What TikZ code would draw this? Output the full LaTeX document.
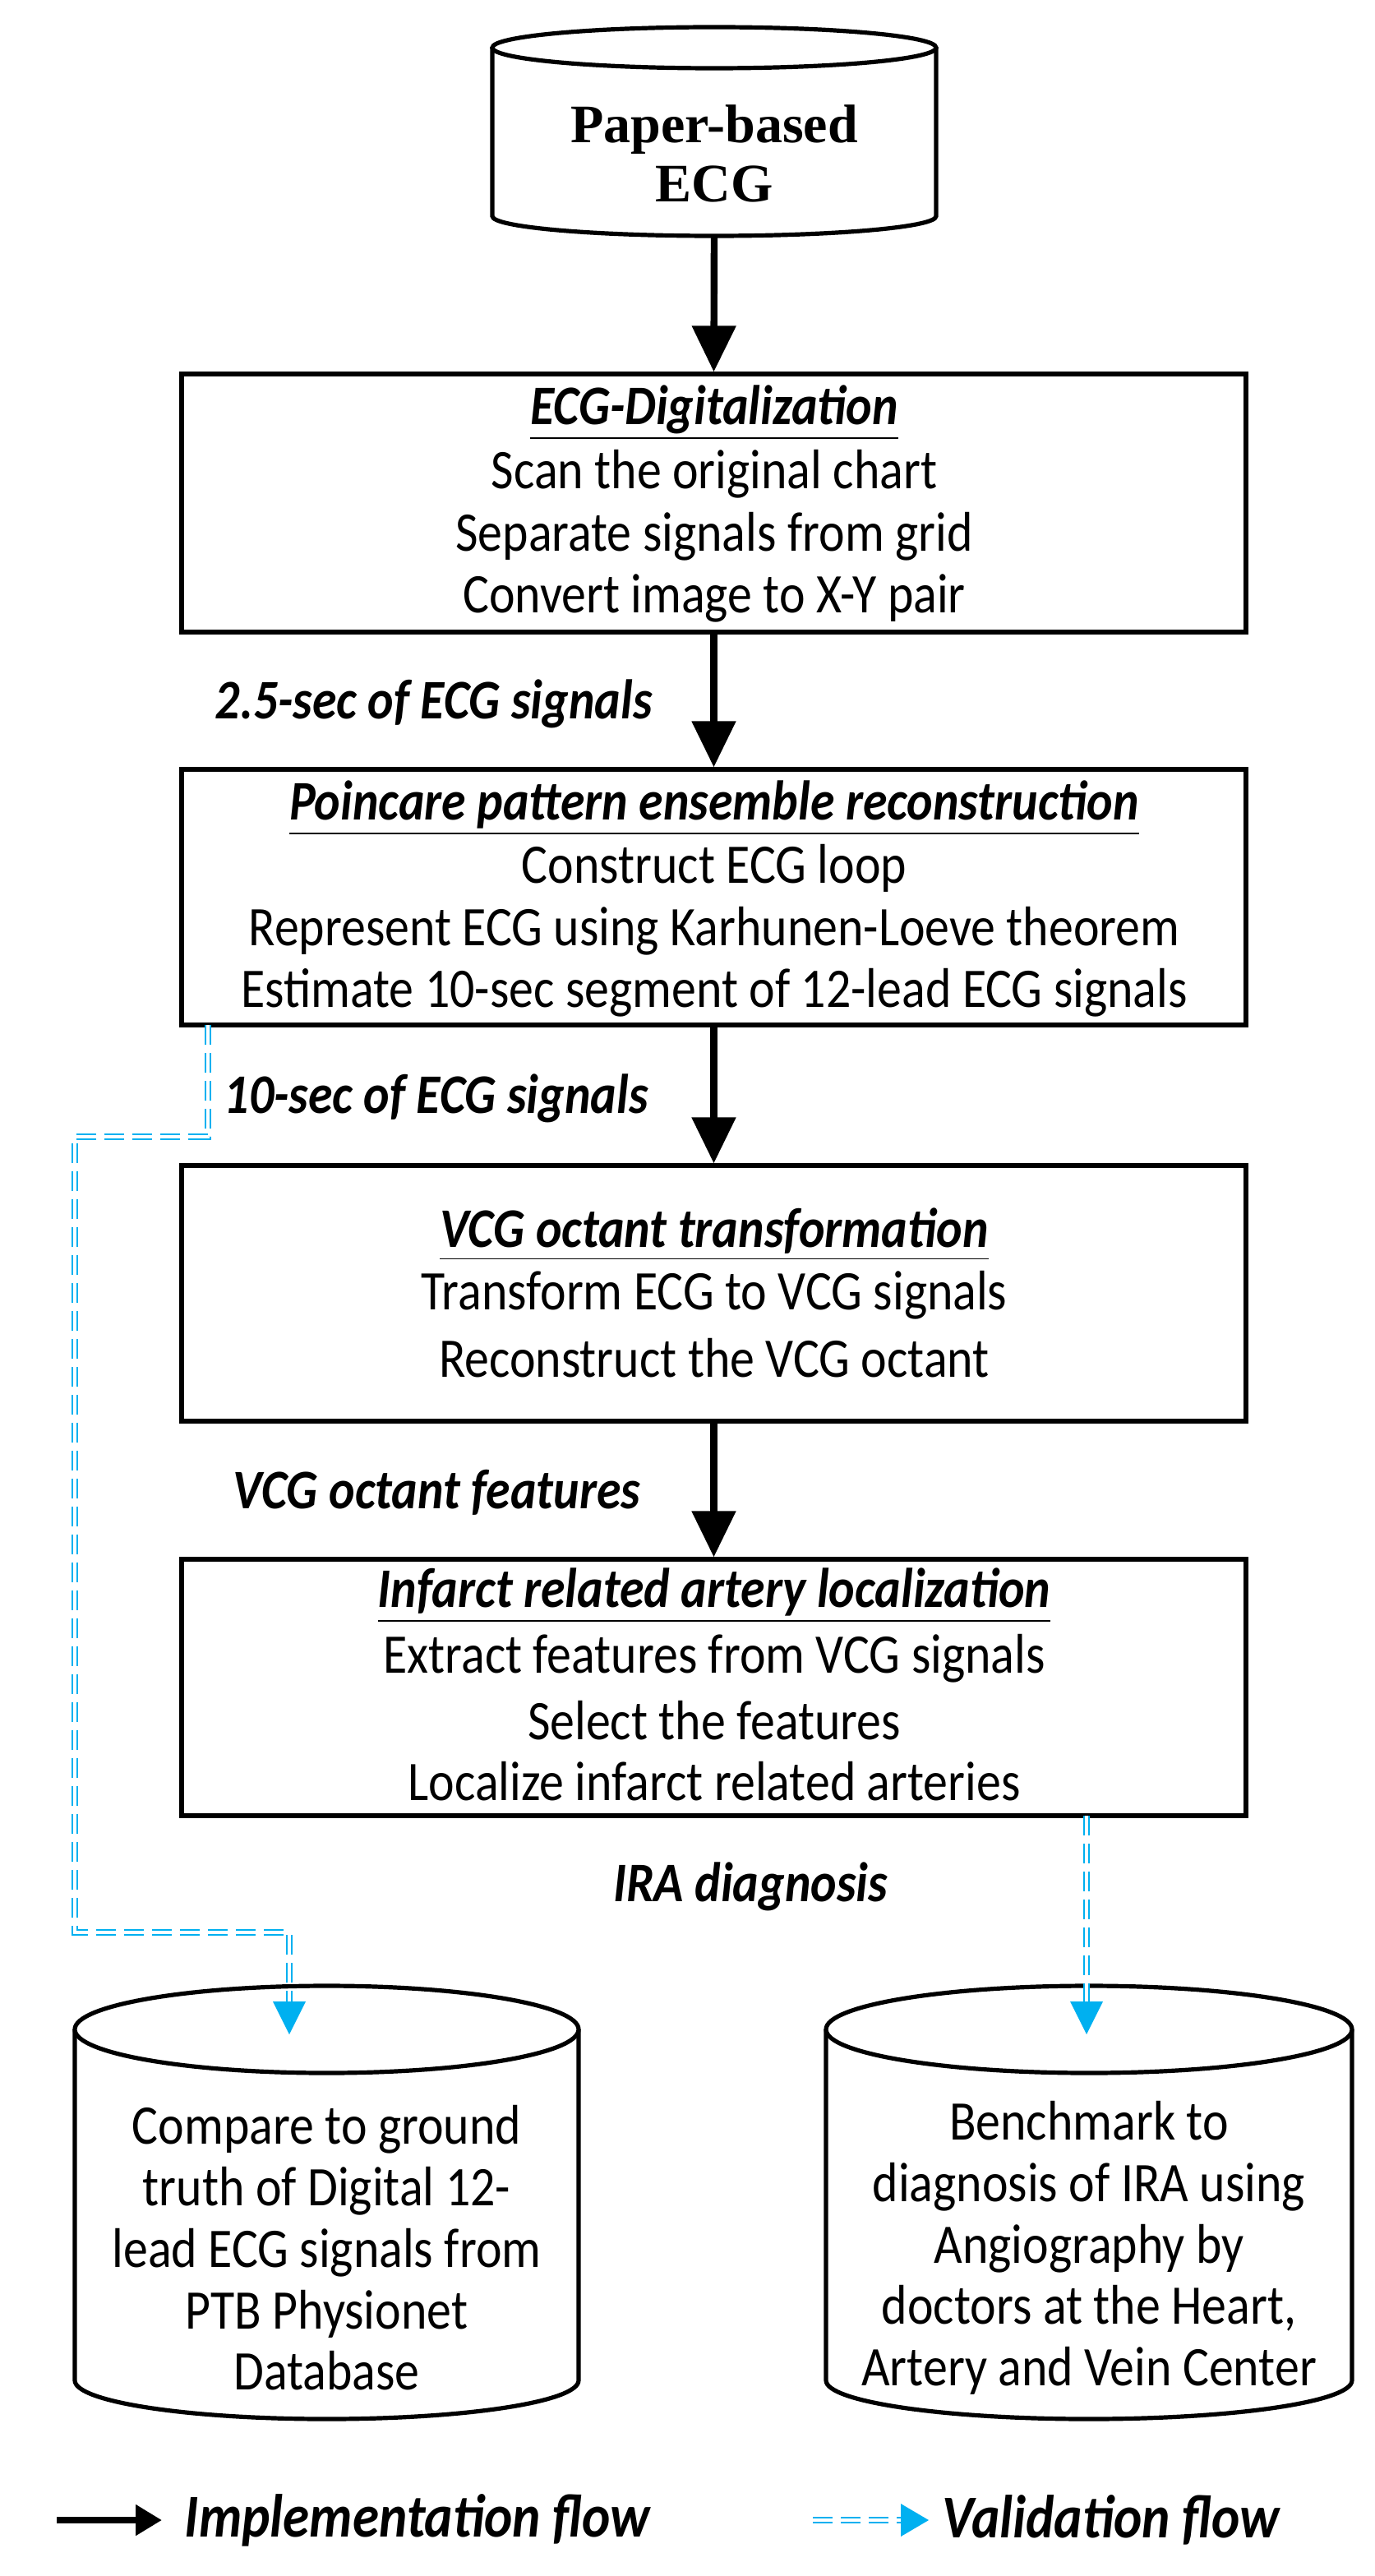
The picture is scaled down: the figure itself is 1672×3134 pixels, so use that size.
\documentclass[tikz,border=0pt]{standalone}
\usepackage{fontspec}
\setmainfont{Carlito}[FakeStretch=0.88]
\newfontfamily\serifb{Liberation Serif}
\usetikzlibrary{arrows.meta}
\definecolor{vblue}{RGB}{0,176,240}
\begin{document}
\begin{tikzpicture}[x=0.25pt,y=-0.25pt,
  box/.style={draw,line width=1.3pt,minimum width=323.75pt,inner sep=0pt},
  txt/.style={font=\fontsize{17}{18}\selectfont,inner sep=0pt},
  ttl/.style={font=\fontsize{17}{18}\selectfont\bfseries\itshape,inner sep=0pt},
  lbl/.style={font=\fontsize{17}{18}\selectfont\bfseries\itshape,inner sep=0pt,anchor=west},
  impl/.style={line width=2.1pt,-{Triangle[width=13pt,length=14pt]}},
  val/.style={draw=vblue,line width=0.55pt,double=white,double distance=1.1pt,dash pattern=on 6pt off 2.5pt},
  vtip/.style={fill=vblue,draw=none},
  cyl/.style={line width=1.3pt,fill=white}]
\useasboundingbox (0,0) rectangle (1672,3134);
% top cylinder
\draw[cyl] (599,58) -- (599,263) arc[start angle=180,end angle=0,x radius=270,y radius=24] -- (1139,58);
\draw[cyl] (869,58) ellipse[x radius=270,y radius=25];
\node[inner sep=0pt,font=\serifb\fontsize{16.5}{18}\selectfont\bfseries,align=center] (paper) at (869,187) {Paper-based\\ECG};
\coordinate (pbot) at (869,287);
% boxes
\node[box,minimum height=78.5pt] (b1) at (868.5,612) {};
\node[box,minimum height=77.75pt] (b2) at (868.5,1091.5) {};
\node[box,minimum height=77.75pt] (b3) at (868.5,1573.5) {};
\node[box,minimum height=78pt] (b4) at (868.5,2053) {};
% texts
\node[ttl] (t1) at (869,502) {\underline{ECG-Digitalization}};
\node[txt] at (869,577) {Scan the original chart};
\node[txt] at (869,653) {Separate signals from grid};
\node[txt] at (869,728) {Convert image to X-Y pair};
\node[ttl] (t2) at (869,983) {\underline{Poincare pattern ensemble reconstruction}};
\node[txt] at (869,1056) {Construct ECG loop};
\node[txt] at (869,1133) {Represent ECG using Karhunen-Loeve theorem};
\node[txt] at (869,1208) {Estimate 10-sec segment of 12-lead ECG signals};
\node[ttl] (t3) at (869,1502) {\underline{VCG octant transformation}};
\node[txt] at (869,1576) {Transform ECG to VCG signals};
\node[txt] at (869,1652) {Reconstruct the VCG octant};
\node[ttl] (t4) at (869,1941) {\underline{Infarct related artery localization}};
\node[txt] at (869,2018) {Extract features from VCG signals};
\node[txt] at (869,2093) {Select the features};
\node[txt] at (869,2167) {Localize infarct related arteries};
% labels
\node[lbl] at (261,856) {2.5-sec of ECG signals};
\node[lbl] at (272,1336) {10-sec of ECG signals};
\node[lbl] at (283,1816) {VCG octant features};
\node[lbl,anchor=center] at (913,2295) {IRA diagnosis};
% implementation arrows
\draw[impl] (pbot) -- (b1.north);
\draw[impl] (b1.south) -- (b2.north);
\draw[impl] (b2.south) -- (b3.north);
\draw[impl] (b3.south) -- (b4.north);
% bottom cylinders
\draw[cyl] (91,2469) -- (91,2896) arc[start angle=180,end angle=0,x radius=306.5,y radius=47] -- (704,2469);
\draw[cyl] (397.5,2469) ellipse[x radius=306.5,y radius=53];
\draw[cyl] (1005,2469) -- (1005,2896) arc[start angle=180,end angle=0,x radius=320,y radius=47] -- (1645,2469);
\draw[cyl] (1325,2469) ellipse[x radius=320,y radius=53];
\node[txt,align=center,font=\fontsize{17}{18.7}\selectfont] (db1) at (397.5,2735) {Compare to ground\\truth of Digital 12-\\lead ECG signals from\\PTB Physionet\\Database};
\node[txt,align=center,font=\fontsize{17}{18.7}\selectfont] (db2) at (1325,2735) {Benchmark to\\diagnosis of IRA using\\Angiography by\\doctors at the Heart,\\Artery and Vein Center};
\coordinate (c1top) at (352,2475);
\coordinate (c2top) at (1322,2475);
% validation flows
\coordinate (v1) at (253,1247);
\draw[val] (v1) -- (253,1383) -- (91,1383) -- (91,2351) -- (352,2351) -- (352,2440);
\fill[vtip] (c1top) -- ++(-20,-40) -- ++(40,0) -- cycle;
\coordinate (v2) at (1322,2209);
\draw[val] (v2) -- (1322,2440);
\fill[vtip] (c2top) -- ++(-20,-40) -- ++(40,0) -- cycle;
% legend
\coordinate (l1a) at (69,3066);
\coordinate (l1b) at (197,3066);
\draw[line width=2.1pt,-{Triangle[width=9pt,length=8pt]}] (l1a) -- (l1b);
\node[lbl,font=\fontsize{18.5}{18}\selectfont\bfseries\itshape] at (224,3066) {Implementation flow};
\coordinate (l2a) at (989,3066);
\coordinate (l2b) at (1130,3066);
\draw[val] (l2a) -- (1100,3066);
\fill[vtip] (l2b) -- ++(-34,-20) -- ++(0,40) -- cycle;
\node[lbl,font=\fontsize{18.5}{18}\selectfont\bfseries\itshape] at (1146,3066) {Validation flow};
\end{tikzpicture}
\end{document}
